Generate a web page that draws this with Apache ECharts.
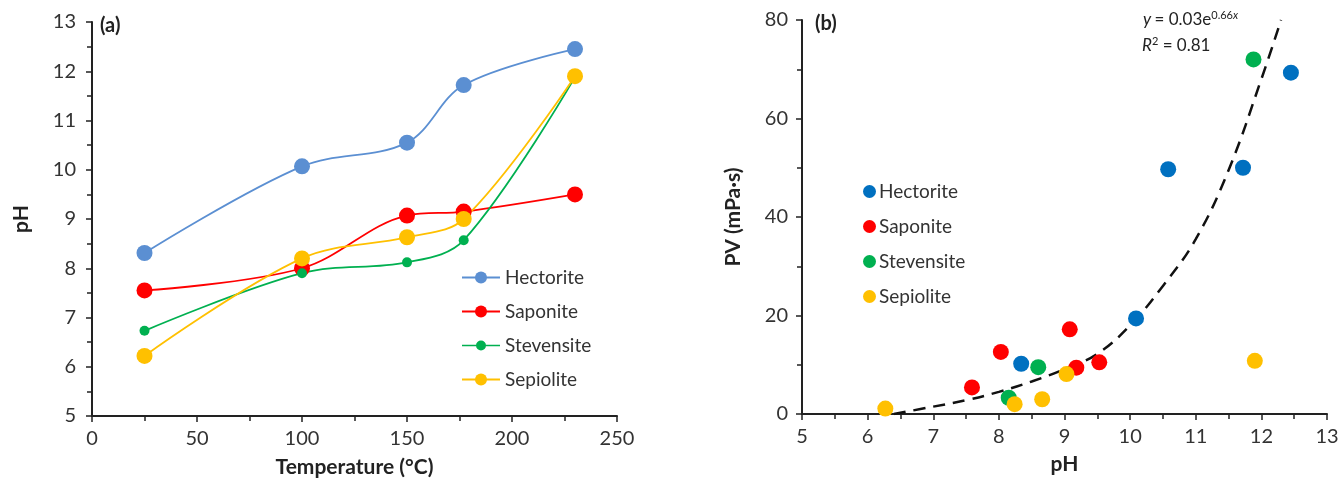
<!DOCTYPE html>
<html><head><meta charset="utf-8">
<script src="https://cdn.jsdelivr.net/npm/echarts@6/dist/echarts.min.js"></script>
<style>html,body{margin:0;padding:0;background:#fff}#c{width:1338px;height:478px}</style>
</head><body><div id="c"></div>
<script>
// ---- Panel (a): pH vs temperature ----
const temps = [25, 100, 150, 177, 230];
const phHectorite = [8.31, 10.07, 10.55, 11.72, 12.45];
const phSaponite = [7.55, 8.0, 9.07, 9.15, 9.5];
const phStevensite = [6.73, 7.9, 8.12, 8.57, 11.88];
const phSepiolite = [6.22, 8.2, 8.63, 9.0, 11.9];
const names = ['Hectorite', 'Saponite', 'Stevensite', 'Sepiolite'];

// ---- Panel (b): PV vs pH ----
const pvHectorite = [[8.34, 10.2], [10.09, 19.4], [10.58, 49.7], [11.72, 50.0], [12.45, 69.3]];
const pvSaponite = [[7.59, 5.4], [8.03, 12.6], [9.08, 17.2], [9.18, 9.4], [9.53, 10.5]];
const pvStevensite = [[8.15, 3.3], [8.6, 9.5], [11.88, 72.0]];
const pvSepiolite = [[6.27, 1.1], [8.24, 2.0], [8.66, 3.0], [9.03, 8.1], [11.9, 10.8]];
// fitted trendline
const trendPts = [[6.4, 0], [7, 1.5], [7.5, 2.8], [8, 4.5], [8.5, 6.6], [9, 9.1], [9.5, 12.2], [10, 18], [10.5, 26], [11, 35.5], [11.5, 49.5], [12, 68], [12.3, 80]];

const xTicksA = [0, 250, 50];
const yTicksA = [5, 13, 1];
const xTicksB = [5, 13, 1];
const yTicksB = [0, 80, 20];

const FONT = 'Lato';
const cLine = {hect: '#5B8FD2', sap: '#FF0000', stev: '#00B050', sep: '#FFC000'};
const cDot = {hect: '#0070C0', sap: '#FF0000', stev: '#00B050', sep: '#FFC000'};

function axisBase(r, name, gap, idx, margin) {
  return {
    gridIndex: idx, type: 'value', min: r[0], max: r[1], interval: r[2],
    name: name, nameLocation: 'middle', nameGap: gap,
    nameTextStyle: {fontFamily: FONT, fontWeight: 'bold', fontSize: 21, color: '#222'},
    axisLine: {show: true, onZero: false, lineStyle: {color: '#222', width: 2}},
    axisTick: {show: true, length: 6, lineStyle: {color: '#222', width: 1.5}},
    minorTick: {show: true, splitNumber: 2, length: 5, lineStyle: {color: '#222', width: 1.5}},
    axisLabel: {fontFamily: FONT, fontSize: 20, color: '#333', margin: margin},
    splitLine: {show: false}
  };
}

const smallIcon = 'path://M0,4.2 L38,4.2 L38,5.8 L0,5.8 Z M19,0 A5,5 0 1 1 19,10 A5,5 0 1 1 19,0 Z';

const chart = echarts.init(document.getElementById('c'), null, {renderer: 'canvas'});
chart.setOption({
  backgroundColor: '#fff',
  animation: false,
  grid: [
    {left: 92, top: 22, width: 525, height: 394, outerBoundsMode: 'none', containLabel: false},
    {left: 802, top: 20, width: 525, height: 394, outerBoundsMode: 'none', containLabel: false}
  ],
  xAxis: [
    axisBase(xTicksA, 'Temperature (°C)', 41, 0, 13),
    axisBase(xTicksB, 'pH', 40, 1, 13)
  ],
  yAxis: [
    axisBase(yTicksA, 'pH', 60, 0, 16),
    axisBase(yTicksB, 'PV (mPa·s)', 58, 1, 14)
  ],
  legend: [
    {
      orient: 'vertical', left: 456, top: 263, itemGap: 15, itemWidth: 38, itemHeight: 15,
      textStyle: {fontFamily: FONT, fontSize: 19, lineHeight: 19, color: '#333'},
      selectedMode: false,
      data: [
        {name: 'Hectorite'},
        {name: 'Saponite'},
        {name: 'Stevensite', icon: smallIcon, itemStyle: {color: cLine.stev}},
        {name: 'Sepiolite'}
      ]
    },
    {
      orient: 'vertical', left: 858, top: 177, itemGap: 16, itemWidth: 13, itemHeight: 13,
      textStyle: {fontFamily: FONT, fontSize: 19, lineHeight: 19, color: '#333', padding: [0, 0, 0, -2]},
      selectedMode: false,
      data: [
        {name: 'Hectorite', icon: 'circle', itemStyle: {color: cDot.hect}},
        {name: 'Saponite', icon: 'circle', itemStyle: {color: cDot.sap}},
        {name: 'Stevensite', icon: 'circle', itemStyle: {color: cDot.stev}},
        {name: 'Sepiolite', icon: 'circle', itemStyle: {color: cDot.sep}}
      ]
    }
  ],
  graphic: [
    {type: 'text', left: 100, top: 16, style: {text: '(a)', fontFamily: FONT, fontWeight: 'bold', fontSize: 20, fill: '#222'}},
    {type: 'text', left: 815, top: 14, style: {text: '(b)', fontFamily: FONT, fontWeight: 'bold', fontSize: 20, fill: '#222'}},
    {type: 'text', left: 1143, top: 10, style: {
      rich: {
        i: {fontFamily: FONT, fontStyle: 'italic', fontSize: 17, fill: '#222'},
        n: {fontFamily: FONT, fontSize: 17, fill: '#222'},
        s: {fontFamily: FONT, fontSize: 11, fill: '#222', padding: [0, 0, 9, 0]},
        si: {fontFamily: FONT, fontStyle: 'italic', fontSize: 11, fill: '#222', padding: [0, 0, 9, 0]}
      },
      text: '{i|y} {n|= 0.03e}{s|0.66}{si|x}'
    }},
    {type: 'text', left: 1142, top: 36, style: {
      rich: {
        i: {fontFamily: FONT, fontStyle: 'italic', fontSize: 17, fill: '#222'},
        n: {fontFamily: FONT, fontSize: 17, fill: '#222'},
        s: {fontFamily: FONT, fontSize: 11, fill: '#222', padding: [0, 0, 9, 0]}
      },
      text: '{i|R}{s|2}{n| = 0.81}'
    }}
  ],
  series: [
    {name: 'Hectorite', type: 'line', xAxisIndex: 0, yAxisIndex: 0, smooth: 0.35,
      data: temps.map((t, i) => [t, phHectorite[i]]), symbol: 'circle', symbolSize: 16,
      lineStyle: {color: cLine.hect, width: 1.8}, itemStyle: {color: cLine.hect}},
    {name: 'Saponite', type: 'line', xAxisIndex: 0, yAxisIndex: 0, smooth: 0.35,
      data: temps.map((t, i) => [t, phSaponite[i]]), symbol: 'circle', symbolSize: 16,
      lineStyle: {color: cLine.sap, width: 1.8}, itemStyle: {color: cLine.sap}},
    {name: 'Stevensite', type: 'line', xAxisIndex: 0, yAxisIndex: 0, smooth: 0.35,
      data: temps.map((t, i) => [t, phStevensite[i]]), symbol: 'circle', symbolSize: 10,
      lineStyle: {color: cLine.stev, width: 1.8}, itemStyle: {color: cLine.stev}},
    {name: 'Sepiolite', type: 'line', xAxisIndex: 0, yAxisIndex: 0, smooth: 0.35,
      data: temps.map((t, i) => [t, phSepiolite[i]]), symbol: 'circle', symbolSize: 16,
      lineStyle: {color: cLine.sep, width: 1.8}, itemStyle: {color: cLine.sep}},
    {name: 'trend', type: 'line', xAxisIndex: 1, yAxisIndex: 1, smooth: 0.4, showSymbol: false,
      data: trendPts, symbol: 'none',
      lineStyle: {color: '#111', width: 2.5, type: [12, 8]}, z: 1},
    {name: 'Hectorite', type: 'scatter', xAxisIndex: 1, yAxisIndex: 1, data: pvHectorite,
      symbolSize: 16, itemStyle: {color: cDot.hect, opacity: 1}, z: 3},
    {name: 'Saponite', type: 'scatter', xAxisIndex: 1, yAxisIndex: 1, data: pvSaponite,
      symbolSize: 16, itemStyle: {color: cDot.sap, opacity: 1}, z: 3},
    {name: 'Stevensite', type: 'scatter', xAxisIndex: 1, yAxisIndex: 1, data: pvStevensite,
      symbolSize: 16, itemStyle: {color: cDot.stev, opacity: 1}, z: 3},
    {name: 'Sepiolite', type: 'scatter', xAxisIndex: 1, yAxisIndex: 1, data: pvSepiolite,
      symbolSize: 16, itemStyle: {color: cDot.sep, opacity: 1}, z: 3}
  ]
});
</script>
</body></html>
